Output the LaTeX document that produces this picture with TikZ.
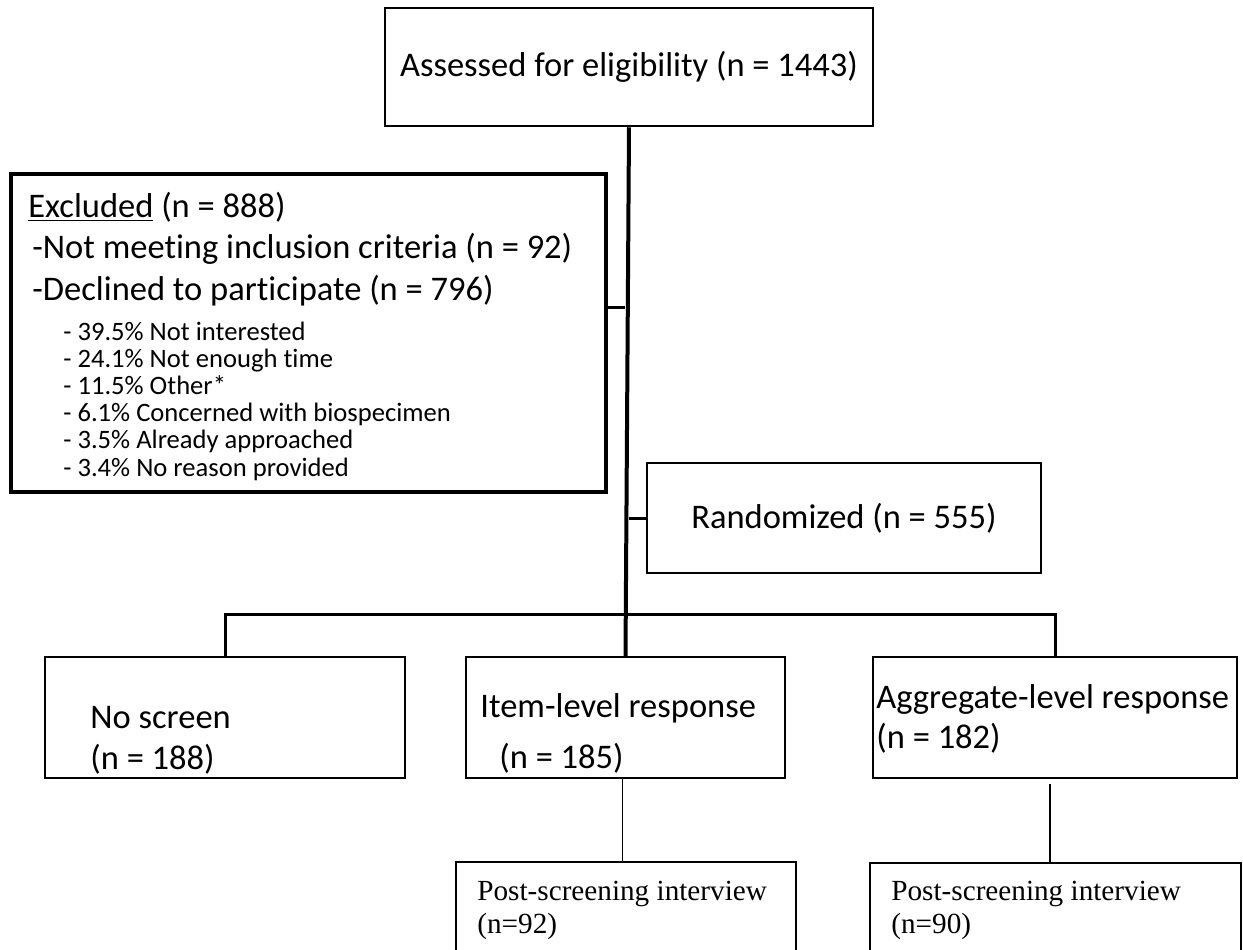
\documentclass[tikz,border=0pt]{standalone}
\usepackage{fontspec}
\setmainfont{Carlito}[Ligatures=CommonOff]
\newfontfamily\postfont{Liberation Serif}
\usetikzlibrary{positioning}
\newcommand{\bigtxt}{\fontsize{17.25}{20.7}\selectfont}
\newcommand{\smalltxt}{\fontsize{13.3}{13.6}\selectfont}
\newcommand{\posttxt}{\postfont\fontsize{14.6}{17.5}\selectfont}
\tikzset{every picture/.style={line join=miter}}
\tikzset{box/.style={draw,line width=1.25pt,inner sep=0pt,font=\bigtxt}}
\tikzset{postbox/.style={draw,line width=0.9pt,inner sep=0pt}}
\tikzset{txt/.style={inner sep=0pt,anchor=base west,font=\bigtxt}}
\tikzset{subtxt/.style={inner sep=0pt,anchor=base west,font=\smalltxt}}
\tikzset{ptxt/.style={inner sep=0pt,anchor=base west,font=\posttxt}}
\tikzset{trunk/.style={line width=2pt}}
\tikzset{branch/.style={line width=1.5pt}}
\tikzset{thinline/.style={line width=0.75pt}}

\begin{document}
\begin{tikzpicture}[x=0.5pt,y=-0.5pt]
  \useasboundingbox (0,0) rectangle (1243,949);
  \clip (0,0) rectangle (1243,949);

  % top box
  \node[box,minimum width=244pt,minimum height=59pt] (elig) at (629,67) {Assessed for eligibility (n = 1443)};

  % excluded
  \node[box,line width=2pt,minimum width=297.5pt,minimum height=159pt] (excl) at (308.5,333) {};
  \node[txt] (exclhead) at (28,217) {\underline{Excluded} (n = 888)};
  \node[txt] (notmeet) at (32,258) {-Not meeting inclusion criteria (n = 92)};
  \node[txt] (declined) at (32,300) {-Declined to participate (n = 796)};
  \foreach \r [count=\i] in {39.5\% Not interested, 24.1\% Not enough time, 11.5\% Other*,
      6.1\% Concerned with biospecimen, 3.5\% Already approached, 3.4\% No reason provided}
    \node[subtxt] (reason\i) at (63,{340+27.2*(\i-1)}) {- \r};

  \node[box,minimum width=197pt,minimum height=55pt] (rand) at (844,518) {Randomized (n = 555)};

  % arms
  \node[box,minimum width=180pt,minimum height=60.5pt] (noscr) at (225,717.5) {};
  \node[txt] (noscrA) at (90,728) {No screen};
  \node[txt] (noscrB) at (90,769) {(n = 188)};
  \node[box,minimum width=159.5pt,minimum height=60.5pt] (item) at (625.5,717.5) {};
  \node[txt] (itemA) at (480,717) {Item-level response};
  \node[txt] (itemB) at (499,768) {(n = 185)};
  \node[box,minimum width=182pt,minimum height=60.5pt] (aggr) at (1055,717.5) {};
  \node[txt] (aggrA) at (876,708) {Aggregate-level response};
  \node[txt] (aggrB) at (876,748) {(n = 182)};

  % interviews
  \node[postbox,minimum width=170pt,minimum height=49pt] (post1) at (626,911) {};
  \node[ptxt] (post1A) at (477,900) {Post-screening interview};
  \node[ptxt] (post1B) at (477,933) {(n=92)};
  \node[postbox,minimum width=185.5pt,minimum height=48.5pt] (post2) at (1055.5,911.5) {};
  \node[ptxt] (post2A) at (891,900) {Post-screening interview};
  \node[ptxt] (post2B) at (891,933) {(n=90)};

  % connectors
  \draw[trunk] (elig.south) -- (item.north);
  \coordinate (exclj) at (625,307);
  \draw[branch] (exclj) -- (exclj -| excl.east);
  \draw[branch] (rand.west) -- (rand.west -| elig.south);
  \coordinate (split) at (625,614);
  \draw[branch] (noscr.north) |- (split) -| (aggr.north);
  \draw[thinline] ([xshift=-1.5pt]item.south) -- ([xshift=-1.5pt]item.south |- post1.north);
  \draw[thinline] ([xshift=-2.5pt,yshift=-2.5pt]aggr.south) -- ([xshift=-2.5pt]aggr.south |- post2.north);
\end{tikzpicture}
\end{document}
